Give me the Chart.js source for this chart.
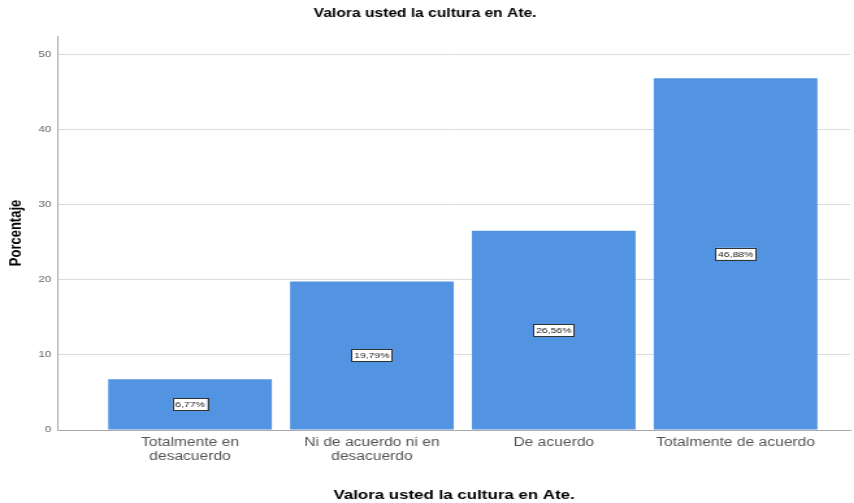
<!DOCTYPE html>
<html>
<head>
<meta charset="utf-8">
<script src="https://cdn.jsdelivr.net/npm/chart.js@4.4.0/dist/chart.umd.min.js"></script>
<style>
    html, body { margin: 0; padding: 0; background: #fff; overflow: hidden; }
    /* le graphique d'origine est étiré horizontalement : on reproduit l'étirement */
    #wrap { width: 657px; height: 503px; transform: scaleX(1.3); transform-origin: 0 0; }
</style>
</head>
<body>
<div id="wrap"><canvas id="chart" width="657" height="503"></canvas></div>
<script>
// --- Données ---
const categories = [
    ['Totalmente en', 'desacuerdo'],
    ['Ni de acuerdo ni en', 'desacuerdo'],
    'De acuerdo',
    'Totalmente de acuerdo'
];
const percentages = [6.77, 19.79, 26.56, 46.88];
const yTicks = [0, 10, 20, 30, 40, 50];
const chartTitle = 'Valora usted la cultura en Ate.';
const yTitle = 'Porcentaje';

const barColor = '#5294e2';
const fontFamily = '"Liberation Sans", Arial, sans-serif';

const formatPct = (v) => v.toFixed(2).replace('.', ',') + '%';

// Étiquettes encadrées au centre de chaque barre
const boxLabels = {
    id: 'boxLabels',
    afterDatasetsDraw(chart) {
        const ctx = chart.ctx;
        const meta = chart.getDatasetMeta(0);
        ctx.save();
        ctx.font = '8px ' + fontFamily;
        ctx.textAlign = 'center';
        ctx.textBaseline = 'middle';
        meta.data.forEach((bar, i) => {
            const text = formatPct(percentages[i]);
            const cy = (bar.y + bar.base) / 2;
            const w = ctx.measureText(text).width + 4;
            const h = 12;
            ctx.fillStyle = '#fff';
            ctx.fillRect(bar.x - w / 2, cy - h / 2, w, h);
            ctx.strokeStyle = '#333';
            ctx.lineWidth = 1;
            ctx.strokeRect(Math.round(bar.x - w / 2) + 0.5, Math.round(cy - h / 2) + 0.5, Math.round(w), h);
            ctx.fillStyle = '#222';
            ctx.fillText(text, bar.x, cy + 0.5);
        });
        ctx.restore();
    }
};

new Chart(document.getElementById('chart'), {
    type: 'bar',
    data: {
        datasets: [{
            data: percentages.map((v, i) => ({ x: i, y: v })),
            backgroundColor: barColor,
            borderWidth: 0,
            barPercentage: 0.9,
            categoryPercentage: 1
        }]
    },
    options: {
        responsive: false,
        animation: false,
        devicePixelRatio: 1,
        layout: { padding: { top: 0, right: 3, bottom: 0, left: 0 } },
        plugins: {
            legend: { display: false },
            tooltip: { enabled: false },
            title: {
                display: true,
                text: chartTitle,
                color: '#000',
                font: { family: fontFamily, size: 12, weight: 'bold' },
                padding: { top: 6, bottom: 15.6 }
            }
        },
        scales: {
            x: {
                type: 'linear',
                offset: false,
                min: -0.726,
                max: 3.63,
                afterBuildTicks: (scale) => {
                    scale.ticks = categories.map((c, i) => ({ value: i }));
                },
                afterFit: (scale) => { scale.height = 73; },
                grid: { display: false, drawTicks: false, offset: false },
                border: { color: '#a8a8a8' },
                ticks: {
                    autoSkip: false,
                    maxRotation: 0,
                    padding: 6,
                    color: '#555',
                    font: { family: fontFamily, size: 12, lineHeight: 1.15 },
                    callback: (value) => categories[value]
                },
                title: {
                    display: true,
                    text: chartTitle,
                    color: '#000',
                    font: { family: fontFamily, size: 13, weight: 'bold' },
                    padding: { top: 0, bottom: 0 }
                }
            },
            y: {
                min: 0,
                max: 52.5,
                afterBuildTicks: (scale) => {
                    scale.ticks = yTicks.map(v => ({ value: v }));
                },
                afterFit: (scale) => { scale.width = 44.6; },
                grid: { color: '#dcdcdc', drawTicks: false },
                border: { color: '#a8a8a8' },
                ticks: {
                    padding: 5,
                    color: '#666',
                    font: { family: fontFamily, size: 9 }
                },
                title: {
                    display: true,
                    text: yTitle,
                    color: '#000',
                    font: { family: fontFamily, size: 13, weight: 'bold' },
                    padding: { top: 5, bottom: 0 }
                }
            }
        }
    },
    plugins: [boxLabels]
});
</script>
</body>
</html>
